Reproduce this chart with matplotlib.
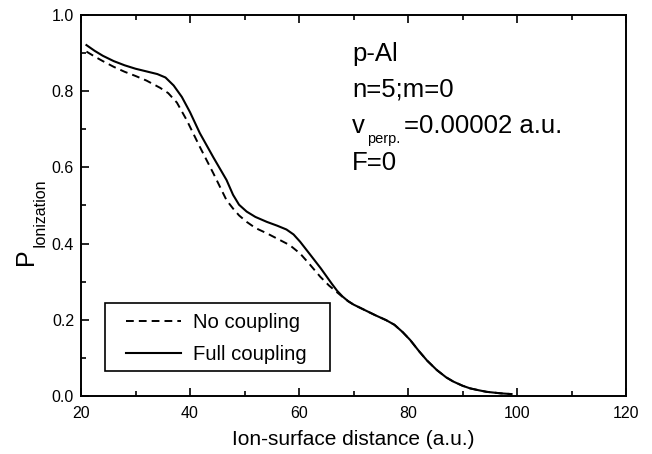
import numpy as np
import matplotlib
matplotlib.use('Agg')
import matplotlib.pyplot as plt
from matplotlib.patches import Rectangle
from matplotlib.ticker import MultipleLocator, FormatStrFormatter

plt.rcParams['font.family'] = ['Liberation Sans', 'DejaVu Sans']

# Full coupling (solid)
full_x = [21, 22.5, 24, 26, 28, 30, 32, 34, 35.5, 37, 38.5, 40, 41.8, 44.3, 46.7,
          47.9, 49, 50.4, 52, 54.1, 56, 57.7, 59, 60.2, 62, 64, 66, 67, 68, 69,
          70, 72, 74, 76, 77.5, 79, 80.4, 82, 83.5, 85.3, 87, 88.3, 90, 91.4, 93,
          94.4, 97, 99]
full_y = [0.921, 0.906, 0.893, 0.879, 0.868, 0.859, 0.852, 0.845, 0.836, 0.815,
          0.785, 0.745, 0.690, 0.626, 0.567, 0.528, 0.502, 0.484, 0.470, 0.457,
          0.447, 0.437, 0.424, 0.405, 0.372, 0.335, 0.295, 0.276, 0.261, 0.249,
          0.240, 0.226, 0.212, 0.199, 0.187, 0.168, 0.147, 0.118, 0.093, 0.068,
          0.049, 0.038, 0.027, 0.020, 0.015, 0.011, 0.007, 0.005]

# No coupling (dashed)
none_x = [21, 22.5, 24, 26, 28, 30, 32, 34.5, 36, 37.6, 39.4, 41.8, 44.3, 46.7,
          47.9, 49, 50.4, 52, 54.1, 56, 58.3, 60.2, 62, 63.9, 65.5, 67, 68, 69,
          70, 72, 74, 76, 77.5, 79, 80.4, 82, 83.5, 85.3, 87, 88.3, 90, 91.4, 93,
          94.4, 97, 99]
none_y = [0.904, 0.891, 0.879, 0.864, 0.851, 0.840, 0.828, 0.809, 0.795, 0.770,
          0.724, 0.654, 0.584, 0.514, 0.492, 0.474, 0.457, 0.441, 0.427, 0.413,
          0.396, 0.374, 0.345, 0.313, 0.290, 0.272, 0.260, 0.249, 0.240, 0.226,
          0.212, 0.199, 0.187, 0.168, 0.147, 0.118, 0.093, 0.068, 0.049, 0.038,
          0.027, 0.020, 0.015, 0.011, 0.007, 0.005]

fig = plt.figure(figsize=(6.52, 4.54), dpi=100)
ax = fig.add_axes([81 / 652, 1 - 396 / 454, 545 / 652, 381 / 454])

ax.plot(none_x, none_y, color='black', lw=1.4, linestyle=(0, (4, 2.6)), label='No coupling')
ax.plot(full_x, full_y, color='black', lw=1.5, label='Full coupling')

ax.set_xlim(20, 120)
ax.set_ylim(0, 1.0)
ax.xaxis.set_major_locator(MultipleLocator(20))
ax.xaxis.set_minor_locator(MultipleLocator(10))
ax.yaxis.set_major_locator(MultipleLocator(0.2))
ax.yaxis.set_minor_locator(MultipleLocator(0.1))
ax.yaxis.set_major_formatter(FormatStrFormatter('%.1f'))
ax.tick_params(which='both', direction='in', top=True, right=False, width=1.2)
ax.tick_params(which='major', length=6, labelsize=11.5, pad=7)
ax.tick_params(which='minor', length=3.5)
ax.tick_params(axis='y', which='major', pad=5)
for s in ax.spines.values():
    s.set_linewidth(1.4)

# axis labels
fig.text(353.5 / 652, 1 - 445 / 454, 'Ion-surface distance (a.u.)', fontsize=15,
         ha='center', va='baseline')
fig.text(33 / 652, 1 - 265 / 454, 'P', fontsize=18, rotation=90,
         rotation_mode='anchor', ha='left', va='baseline')
fig.text(45 / 652, 1 - 247 / 454, 'Ionization', fontsize=11.5, rotation=90,
         rotation_mode='anchor', ha='left', va='baseline')

# annotation block
tx = 352 / 652
fig.text(tx, 1 - 61 / 454, 'p-Al', fontsize=18.5, va='baseline')
fig.text(tx, 1 - 97 / 454, 'n=5;m=0', fontsize=18.5, va='baseline')
fig.text(tx, 1 - 133 / 454, 'v', fontsize=18.5, va='baseline')
fig.text(367 / 652, 1 - 143 / 454, 'perp.', fontsize=10.5, va='baseline')
fig.text(404 / 652, 1 - 133 / 454, '=0.00002 a.u.', fontsize=18.5, va='baseline')
fig.text(tx, 1 - 170 / 454, 'F=0', fontsize=18.5, va='baseline')

# legend
ax.legend(loc='upper left', bbox_to_anchor=(0.068, 0.238), frameon=False,
          fontsize=14.6, handlelength=2.7, handletextpad=0.6, borderpad=0.4,
          labelspacing=0.6, borderaxespad=0)
ax.add_patch(Rectangle((0.044, 0.066), 0.413, 0.179, transform=ax.transAxes,
                       fill=False, edgecolor='black', lw=1.2, zorder=5))

fig.savefig('out.png', dpi=100)
